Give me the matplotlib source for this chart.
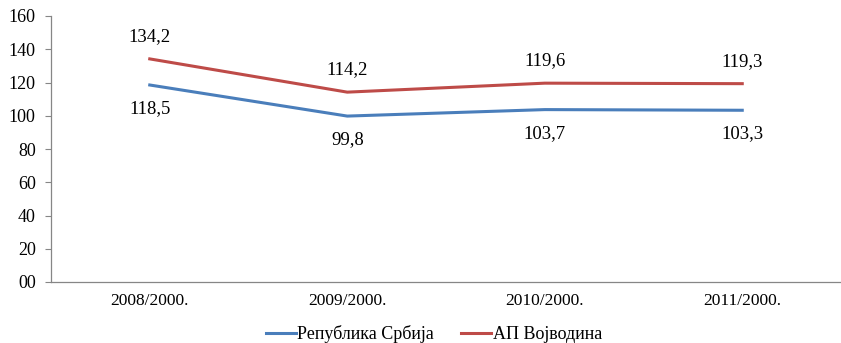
import matplotlib
matplotlib.use('Agg')
import matplotlib.pyplot as plt

# Data
categories = ['2008/2000.', '2009/2000.', '2010/2000.', '2011/2000.']
srbija = [118.5, 99.8, 103.7, 103.3]
vojvodina = [134.2, 114.2, 119.6, 119.3]
y_ticks = [0, 20, 40, 60, 80, 100, 120, 140, 160]
y_tick_labels = ['00', '20', '40', '60', '80', '100', '120', '140', '160']

plt.rcParams['font.family'] = ['Liberation Serif', 'DejaVu Serif']

fig = plt.figure(figsize=(8.41, 3.43), dpi=100)
ax = fig.add_axes([51 / 841, 61 / 343, 790 / 841, 266 / 343])

x = list(range(len(categories)))
blue = '#4A7EBB'
red = '#BE4B48'
ax.plot(x, srbija, color=blue, linewidth=2.2, label='Република Србија')
ax.plot(x, vojvodina, color=red, linewidth=2.2, label='АП Војводина')

# data labels
for i in x:
    ax.annotate(f'{srbija[i]:.1f}'.replace('.', ','), (i, srbija[i]),
                xytext=(0, -17), textcoords='offset points',
                ha='center', va='center', fontsize=13.5)
    ax.annotate(f'{vojvodina[i]:.1f}'.replace('.', ','), (i, vojvodina[i]),
                xytext=(0, 16), textcoords='offset points',
                ha='center', va='center', fontsize=13.5)

ax.set_xlim(-0.5, 3.5)
ax.set_ylim(0, 160)
ax.set_yticks(y_ticks)
ax.set_yticklabels(y_tick_labels)
ax.set_xticks(x)
ax.set_xticklabels(categories)
ax.tick_params(axis='y', labelsize=13, length=4, color='#868686', pad=7)
ax.tick_params(axis='x', labelsize=12.5, length=0, pad=8)

for s in ['top', 'right']:
    ax.spines[s].set_visible(False)
for s in ['left', 'bottom']:
    ax.spines[s].set_color('#868686')
    ax.spines[s].set_linewidth(0.9)

ax.legend(loc='center', bbox_to_anchor=(434 / 841, 9 / 343),
          bbox_transform=fig.transFigure, ncol=2, frameon=False,
          fontsize=13, handlelength=1.65, handletextpad=0.1,
          columnspacing=1.5)

plt.savefig('out.png', dpi=100)
plt.close()
